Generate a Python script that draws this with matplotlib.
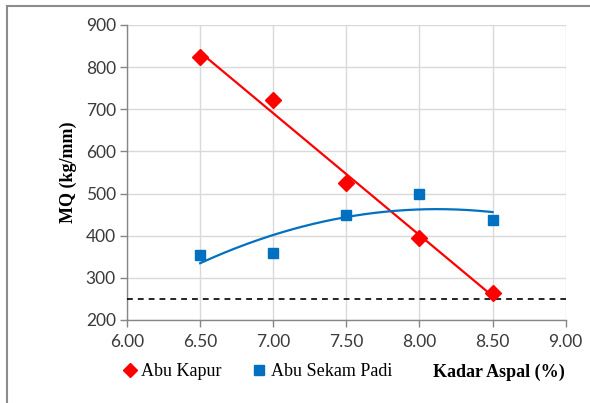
import numpy as np
import matplotlib
matplotlib.use("Agg")
import matplotlib.pyplot as plt
from matplotlib.lines import Line2D

# Kadar aspal (%) and Marshall Quotient (kg/mm)
kadar_aspal = [6.5, 7.0, 7.5, 8.0, 8.5]
mq_abu_kapur = [823, 723, 525, 395, 264]
mq_abu_sekam = [355, 360, 448, 499, 437]
mq_batas = 250

x_ticks = [6.0, 6.5, 7.0, 7.5, 8.0, 8.5, 9.0]
y_ticks = [200, 300, 400, 500, 600, 700, 800, 900]

red = "#FF0000"
blue = "#0070C0"
grid_col = "#D9D9D9"
axis_col = "#868686"

fig = plt.figure(figsize=(5.9, 4.03), dpi=100)
ax = fig.add_axes([0.2153, 0.206, 0.7435, 0.732])

# trendlines (Excel style): linear for abu kapur, poly 2 for abu sekam padi
xs = np.linspace(kadar_aspal[0], kadar_aspal[-1], 200)
lin = np.polyfit(kadar_aspal, mq_abu_kapur, 1)
quad = np.polyfit(kadar_aspal, mq_abu_sekam, 2)

ax.axhline(mq_batas, color="black", linestyle=(0, (3.5, 3)), linewidth=1.2, zorder=3)

ax.plot(kadar_aspal, mq_abu_kapur, linestyle="none", marker="D", markersize=8.5,
        color=red, zorder=4)
ax.plot(kadar_aspal, mq_abu_sekam, linestyle="none", marker="s", markersize=7,
        color=blue, zorder=4)
ax.plot(xs, np.polyval(lin, xs), color=red, linewidth=1.6, zorder=5)
ax.plot(xs, np.polyval(quad, xs), color=blue, linewidth=1.6, zorder=5)

ax.set_xlim(6.0, 9.0)
ax.set_ylim(200, 900)
ax.set_xticks(x_ticks)
ax.set_yticks(y_ticks)
ax.set_xticklabels(["%.2f" % v for v in x_ticks])
ax.grid(True, color=grid_col, linewidth=1.0, zorder=0)
ax.set_axisbelow(True)

for side in ["top", "right"]:
    ax.spines[side].set_visible(False)
for side in ["left", "bottom"]:
    ax.spines[side].set_color(axis_col)
    ax.spines[side].set_linewidth(1.0)

ax.tick_params(axis="both", direction="out", length=5, width=1.0, color=axis_col,
               labelsize=12.5, labelcolor="#3A3A3A")
for lbl in ax.get_xticklabels() + ax.get_yticklabels():
    lbl.set_fontfamily("Lato")
ax.tick_params(axis="x", pad=5)
ax.tick_params(axis="y", pad=3)

ax.set_ylabel("MQ (kg/mm)", fontfamily="Liberation Serif", fontweight="bold",
              fontsize=13, labelpad=6)

# legend row with x axis title on the right
handles = [
    Line2D([], [], linestyle="none", marker="D", markersize=7.5, color=red),
    Line2D([], [], linestyle="none", marker="s", markersize=6.5, color=blue),
]
fig.legend(handles, ["Abu Kapur", "Abu Sekam Padi"], loc="center left",
           bbox_to_anchor=(0.183, 1 - 372 / 403), ncol=2, frameon=False,
           handlelength=0.6, handletextpad=0.35, columnspacing=1.75,
           prop={"family": "Liberation Serif", "size": 13})
fig.text(565 / 590, 1 - 372 / 403, "Kadar Aspal (%)", ha="right", va="center",
         fontfamily="Liberation Serif", fontweight="bold", fontsize=13)

# outer frame (top and left edges)
fig.add_artist(Line2D([7 / 590, 1.0], [1 - 6 / 403, 1 - 6 / 403],
                      transform=fig.transFigure, color="#8C8C8C", linewidth=1.5))
fig.add_artist(Line2D([7 / 590, 7 / 590], [0.0, 1 - 6 / 403],
                      transform=fig.transFigure, color="#8C8C8C", linewidth=1.5))

fig.savefig("out.png", dpi=100)
